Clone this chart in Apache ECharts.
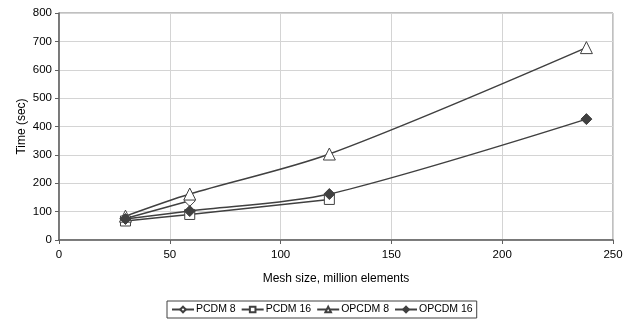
<!DOCTYPE html>
<html><head><meta charset="utf-8">
<script src="https://cdn.jsdelivr.net/npm/echarts@6/dist/echarts.min.js"></script>
<style>html,body{margin:0;padding:0;background:#fff}#c{width:632px;height:320px}</style>
</head><body><div id="c"></div>
<script>
const seriesNames = ['PCDM 8', 'PCDM 16', 'OPCDM 8', 'OPCDM 16'];
const pcdm8 = [[30, 76], [59, 138]];
const pcdm16 = [[30, 67], [59, 90], [122, 143]];
const opcdm8 = [[30, 84], [59, 162], [122, 303], [238, 678]];
const opcdm16 = [[30, 74], [59, 102], [122, 162], [238, 426]];
const xTicks = [0, 50, 100, 150, 200, 250];
const yTicks = [0, 100, 200, 300, 400, 500, 600, 700, 800];

const lineColor = '#404040';
function mk(name, data, symbol, fill, size) {
  return {
    name, type: 'line', data, smooth: 0.3,
    symbol, symbolSize: size,
    lineStyle: { color: lineColor, width: 1.5 },
    itemStyle: { color: fill, borderColor: lineColor, borderWidth: 1 },
    emphasis: { disabled: true }
  };
}
const chart = echarts.init(document.getElementById('c'), null, { renderer: 'canvas' });
chart.setOption({
  animation: false,
  textStyle: { fontFamily: 'Liberation Sans, Arial, sans-serif' },
  grid: { left: 59, right: 19, top: 13, bottom: 80, show: true, borderColor: '#808080', borderWidth: 1 },
  xAxis: {
    type: 'value', min: xTicks[0], max: xTicks[xTicks.length - 1], interval: 50,
    name: 'Mesh size, million elements', nameLocation: 'middle', nameGap: 33, nameMoveOverlap: false,
    nameTextStyle: { fontSize: 12, color: '#000' },
    axisLine: { show: true, lineStyle: { color: '#606060', width: 1.5 } },
    axisTick: { show: true, length: 4, lineStyle: { color: '#606060' } },
    axisLabel: { fontSize: 11.5, color: '#000', margin: 9 },
    splitLine: { show: true, lineStyle: { color: '#d4d4d4', width: 1 } }
  },
  yAxis: {
    type: 'value', min: yTicks[0], max: yTicks[yTicks.length - 1], interval: 100,
    name: 'Time (sec)', nameLocation: 'middle', nameGap: 31, nameMoveOverlap: false,
    nameTextStyle: { fontSize: 12, color: '#000' },
    axisLine: { show: true, lineStyle: { color: '#606060', width: 1.5 } },
    axisTick: { show: true, length: 4, lineStyle: { color: '#606060' } },
    axisLabel: { fontSize: 11.5, color: '#000', margin: 7 },
    splitLine: { show: true, lineStyle: { color: '#d4d4d4', width: 1 } }
  },
  legend: {
    bottom: 2, left: 167,
    data: seriesNames,
    itemWidth: 22, itemHeight: 7, itemGap: 5,
    padding: [3, 4, 3, 4],
    borderColor: '#404040', borderWidth: 1, borderRadius: 0,
    textStyle: { fontSize: 10.5, color: '#000', padding: [0, 0, 0, -3] }
  },
  series: [
    mk(seriesNames[0], pcdm8, 'diamond', '#fff', 11),
    mk(seriesNames[1], pcdm16, 'rect', '#fff', 10),
    mk(seriesNames[2], opcdm8, 'triangle', '#fff', 12),
    mk(seriesNames[3], opcdm16, 'diamond', lineColor, 11)
  ]
});
</script></body></html>
